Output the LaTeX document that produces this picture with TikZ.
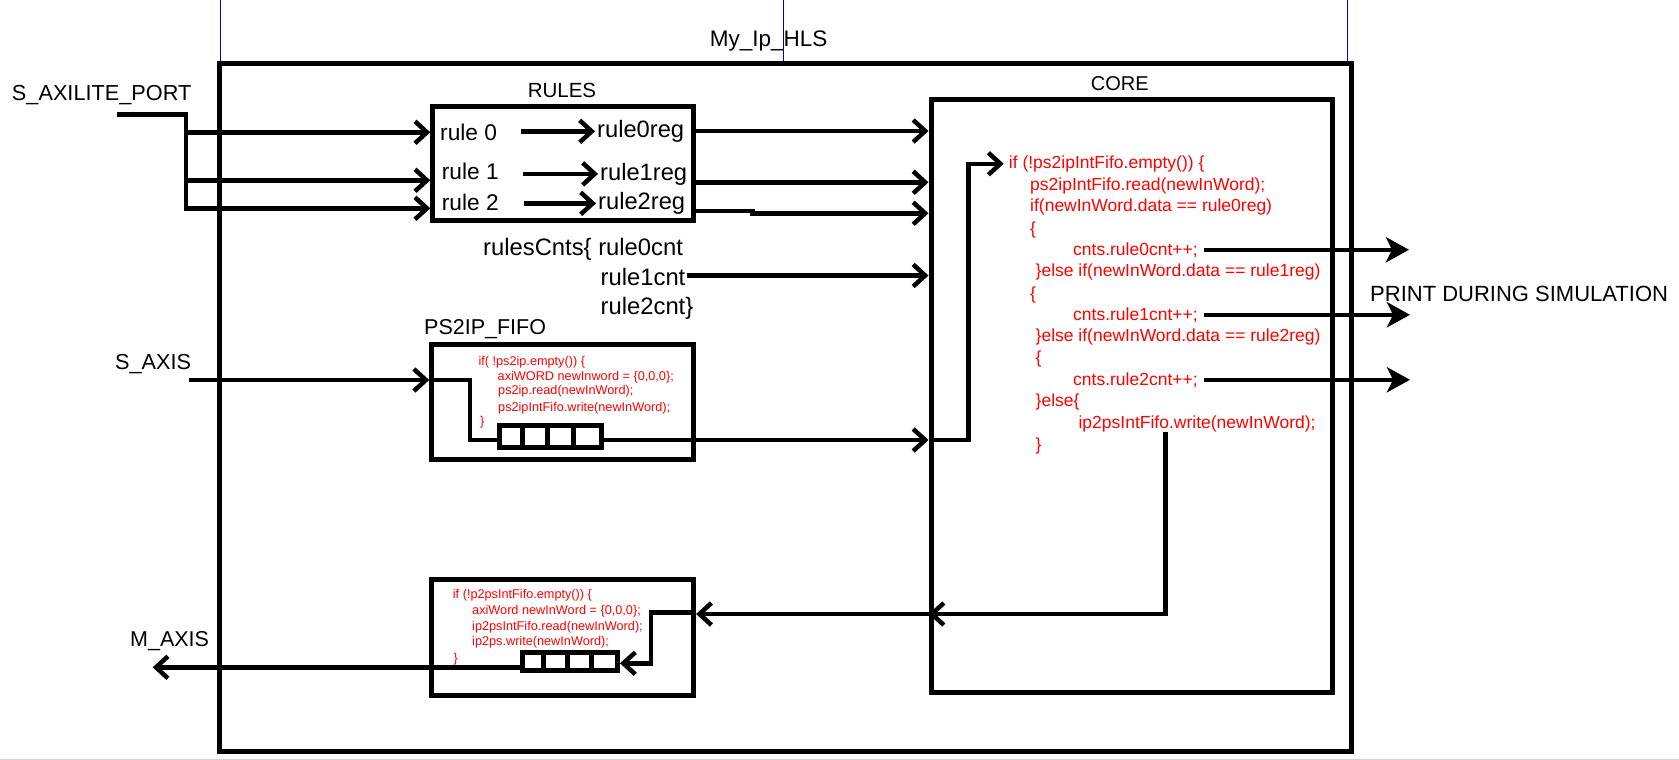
\documentclass[tikz,border=0pt]{standalone}
\usepackage{fontspec}
\setmainfont{Liberation Sans}
\usetikzlibrary{arrows.meta}
\definecolor{selblue}{RGB}{0,0,200}
\begin{document}
\begin{tikzpicture}[x=1pt,y=-1pt,
  box/.style={draw, line width=5pt, inner sep=0pt},
  wire/.style={line width=4.5pt},
  arr/.style={wire, -{Straight Barb[length=12pt,width=22pt,line width=4.5pt]}},
  parr/.style={line width=4.5pt, -{Stealth[length=23pt,width=25pt,inset=6pt]}},
  lbl/.style={inner sep=0pt, anchor=base west, font=\fontsize{#1}{#1}\selectfont},
  lbl/.default=22,
  code/.style={inner sep=0pt, anchor=base west, text=red, font=\fontsize{17.5}{21}\selectfont},
  scode/.style={inner sep=0pt, anchor=base west, text=red, font=\fontsize{12.7}{15}\selectfont},
]
\fill[white] (0,0) rectangle (1679,760);
\useasboundingbox (0,0) rectangle (1679,760);
\draw[gray!35, line width=1pt] (0,759.5) -- (1679,759.5);
% selection guide lines
\draw[selblue, line width=1pt] (220.7,0) -- (220.7,63.3);
\draw[selblue, line width=1pt] (783.6,0) -- (783.6,63.3);
\draw[selblue, line width=1pt] (1347.8,0) -- (1347.8,63.3);

% boxes
\node[box, minimum width=1131.9pt, minimum height=688.4pt] (ip) at (785.55,407.5) {};
\node[box, minimum width=401.8pt, minimum height=593pt] (core) at (1131.9,395.8) {};
\node[box, minimum width=260.8pt, minimum height=114pt] (rules) at (563.2,163.7) {};
\node[box, minimum width=261.9pt, minimum height=115pt] (ps2ip) at (562.65,401.5) {};
\node[box, minimum width=261.9pt, minimum height=116.4pt] (ip2ps) at (562.65,637.5) {};

% fifos
\node[box, minimum width=102pt, minimum height=22.5pt] (fifo1) at (550,436.25) {};
\foreach \k in {1,2,3} \draw[line width=5pt] ([xshift=25.5*\k pt]fifo1.north west) -- ([xshift=25.5*\k pt]fifo1.south west);
\node[box, minimum width=95pt, minimum height=17.5pt] (fifo2) at (570,661.25) {};
\foreach \k in {1,2,3} \draw[line width=5pt] ([xshift=23.75*\k pt]fifo2.north west) -- ([xshift=23.75*\k pt]fifo2.south west);

% black labels
\node[lbl=22.5] (title) at (709.7,46.5) {My\_Ip\_HLS};
\node[lbl=20.5] (rulesT) at (527.6,97) {RULES};
\node[lbl=20] (coreT) at (1090.7,90) {CORE};
\node[lbl=21.7] (saxilite) at (11.8,100) {S\_AXILITE\_PORT};
\node[lbl=21.7] (saxis) at (115,369) {S\_AXIS};
\node[lbl=21.5] (maxis) at (130,646.5) {M\_AXIS};
\node[lbl=21.5] (ps2ipT) at (424,334.5) {PS2IP\_FIFO};
\node[lbl=22] (print) at (1370,301) {PRINT DURING SIMULATION};
\node[lbl=22.7] (r0) at (440,140) {rule 0};
\node[lbl=22.7] (r1) at (441.7,179) {rule 1};
\node[lbl=22.7] (r2) at (441.7,210) {rule 2};
\node[lbl=23.7] (r0reg) at (597,137.5) {rule0reg};
\node[lbl=23.7] (r1reg) at (600,180) {rule1reg};
\node[lbl=23.7] (r2reg) at (598,209.5) {rule2reg};
\node[lbl=23.8] (rc0) at (483,255.7) {rulesCnts\{ rule0cnt};
\node[lbl=23.8] (rc1) at (600.5,285.7) {rule1cnt};
\node[lbl=23.8] (rc2) at (600.5,314.3) {rule2cnt\}};

% core code
\node[code] (c1) at (1008.7,168.3) {if (!ps2ipIntFifo.empty()) \{};
\node[code] (c2) at (1030,190) {ps2ipIntFifo.read(newInWord);};
\node[code] (c3) at (1030,211.7) {if(newInWord.data == rule0reg)};
\node[code] (c4) at (1030,234.3) {\{};
\node[code] (c5) at (1073,255) {cnts.rule0cnt++;};
\node[code] (c6) at (1035.5,276.7) {\}else if(newInWord.data == rule1reg)};
\node[code] (c7) at (1030,299) {\{};
\node[code] (c8) at (1073,320) {cnts.rule1cnt++;};
\node[code] (c9) at (1035.5,341.7) {\}else if(newInWord.data == rule2reg)};
\node[code] (c10) at (1035.5,363.3) {\{};
\node[code] (c11) at (1073,385) {cnts.rule2cnt++;};
\node[code] (c12) at (1035.5,406.7) {\}else\{};
\node[code] (c13) at (1078.4,428.3) {ip2psIntFifo.write(newInWord);};
\node[code] (c14) at (1035.5,450) {\}};

% ps2ip code
\node[scode] (p1) at (478.3,365.2) {if( !ps2ip.empty()) \{};
\node[scode] (p2) at (497.5,380.2) {axiWORD newInword = \{0,0,0\};};
\node[scode] (p3) at (498,394.8) {ps2ip.read(newInWord);};
\node[scode] (p4) at (498,411) {ps2ipIntFifo.write(newInWord);};
\node[scode] (p5) at (480,425.2) {\}};

% ip2ps code
\node[scode] (q1) at (452.7,598.5) {if (!p2psIntFifo.empty()) \{};
\node[scode] (q2) at (472,614.2) {axiWord newInWord = \{0,0,0\};};
\node[scode] (q3) at (472,630.5) {ip2psIntFifo.read(newInWord);};
\node[scode] (q4) at (472,645.2) {ip2ps.write(newInWord);};
\node[scode] (q5) at (453.3,662) {\}};

% S_AXILITE connectors
\coordinate (a0) at (116.8,114.3);
\coordinate (aj) at (185.9,114.3);
\draw[arr] (a0) -- (aj) |- (rules.west |- 0,132.3);
\draw[arr] (aj) |- (rules.west |- 0,180.3);
\draw[arr] (aj) |- (rules.west |- 0,208.3);

% inside rules
\draw[arr] (r0reg.west -| 520.6,0) -- ([xshift=-2pt]r0reg.west);
\draw[arr] (r1reg.west -| 523,0) -- ([xshift=-2pt]r1reg.west);
\draw[arr] (r2reg.west -| 524,0) -- ([xshift=-2pt]r2reg.west);

% rules to core
\draw[arr] (rules.east |- 0,131) -- (core.west |- 0,131);
\draw[arr] (rules.east |- 0,182.3) -- (core.west |- 0,182.3);
\draw[arr] (rules.east |- 0,211) -- (752.5,211) -- (752.5,213.3) -- (core.west |- 0,213.3);
\draw[arr] ([xshift=1pt]rc1.east |- 0,275.5) -- (core.west |- 0,275.5);

% S_AXIS path
\coordinate (s0) at (188.5,380);
\draw[arr] (s0) -- (ps2ip.west |- s0);
\draw[wire] (ps2ip.west |- s0) -- (470,380) |- (fifo1.west |- 0,440);
\draw[arr] (fifo1.east |- 0,440) -- (core.west |- 0,440);
\draw[arr] (core.west |- 0,440) -- (968.5,440) |- ([xshift=-5pt]c1.west);

% print arrows
\draw[parr] ([xshift=6pt]c5.east) -- (c5.east -| 1409,0);
\draw[parr] ([xshift=6pt]c8.east) -- (c8.east -| 1410,0);
\draw[parr] ([xshift=6pt]c11.east) -- (c11.east -| 1410,0);

% output path
\coordinate (wr) at (1165.7,431.7);
\draw[arr] (wr) |- (core.west |- 0,614);
\draw[arr] (core.west |- 0,614) -- (ip2ps.east |- 0,614);
\draw[arr] (ip2ps.east |- 0,612.7) -- (650.8,612.7) |- (fifo2.east |- 0,663.3);
\coordinate (m0) at (152.6,667.3);
\draw[arr] (fifo2.west |- 0,667.3) -- (m0);
\end{tikzpicture}
\end{document}
